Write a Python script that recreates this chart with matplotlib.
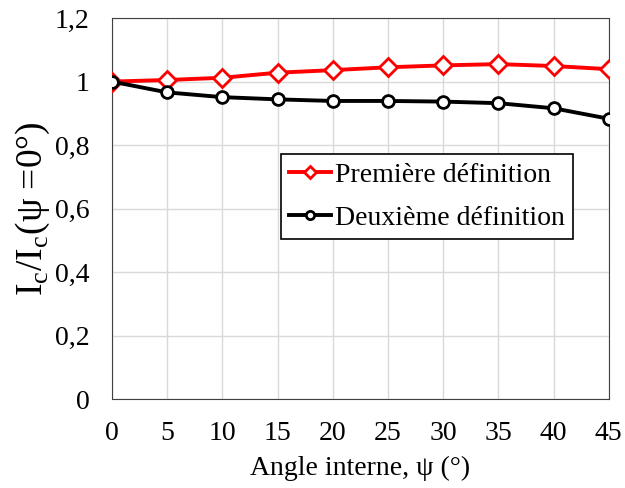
import matplotlib
matplotlib.use('Agg')
import matplotlib.pyplot as plt

plt.rcParams['font.family'] = ['Liberation Serif', 'DejaVu Serif']
plt.rcParams['mathtext.fontset'] = 'custom'
plt.rcParams['mathtext.rm'] = 'Liberation Serif'

# data
psi = [0, 5, 10, 15, 20, 25, 30, 35, 40, 45]
premiere = [1.000, 1.005, 1.012, 1.028, 1.036, 1.045, 1.051, 1.055, 1.049, 1.039]
deuxieme = [1.000, 0.966, 0.951, 0.944, 0.939, 0.939, 0.937, 0.932, 0.916, 0.883]
yticks = [0, 0.2, 0.4, 0.6, 0.8, 1.0, 1.2]
ylabels = ['0', '0,2', '0,4', '0,6', '0,8', '1', '1,2']

fig = plt.figure(figsize=(6.25, 4.88), dpi=100)
ax = fig.add_axes([0.179, 0.182, 0.795, 0.781])

ax.plot(psi, premiere, color='#ff0000', lw=2.8, marker='D', ms=9,
        mfc='white', mec='#ff0000', mew=2, label='Première définition', zorder=3)
ax.plot(psi, deuxieme, color='black', lw=2.8, marker='o', ms=8.5,
        mfc='white', mec='black', mew=2, label='Deuxième définition', zorder=3)

ax.set_xlim(0, 45)
ax.set_ylim(0, 1.2)
ax.set_xticks(psi)
ax.set_yticks(yticks)
ax.set_yticklabels(ylabels)
ax.tick_params(length=0, labelsize=20)
ax.tick_params(axis='x', pad=16)
ax.tick_params(axis='y', pad=16)
ax.grid(True, color='#d9d9d9', lw=1)
ax.set_axisbelow(True)
for s in ax.spines.values():
    s.set_color('#404040')

ax.set_xlabel('Angle interne, ψ (°)', fontsize=20, labelpad=7)
ax.set_ylabel(r'I$_\mathregular{c}$/I$_\mathregular{c}$(ψ =0°)', fontsize=27, labelpad=2)

leg = ax.legend(loc='upper left', bbox_to_anchor=(0.34, 0.644), borderaxespad=0,
                fontsize=20, frameon=True, fancybox=False, edgecolor='black',
                framealpha=1, handlelength=1.5, handletextpad=0.15,
                borderpad=0.3, labelspacing=0.65, markerscale=0.7)
leg.get_frame().set_linewidth(1.2)

fig.savefig('out.png', dpi=100)
